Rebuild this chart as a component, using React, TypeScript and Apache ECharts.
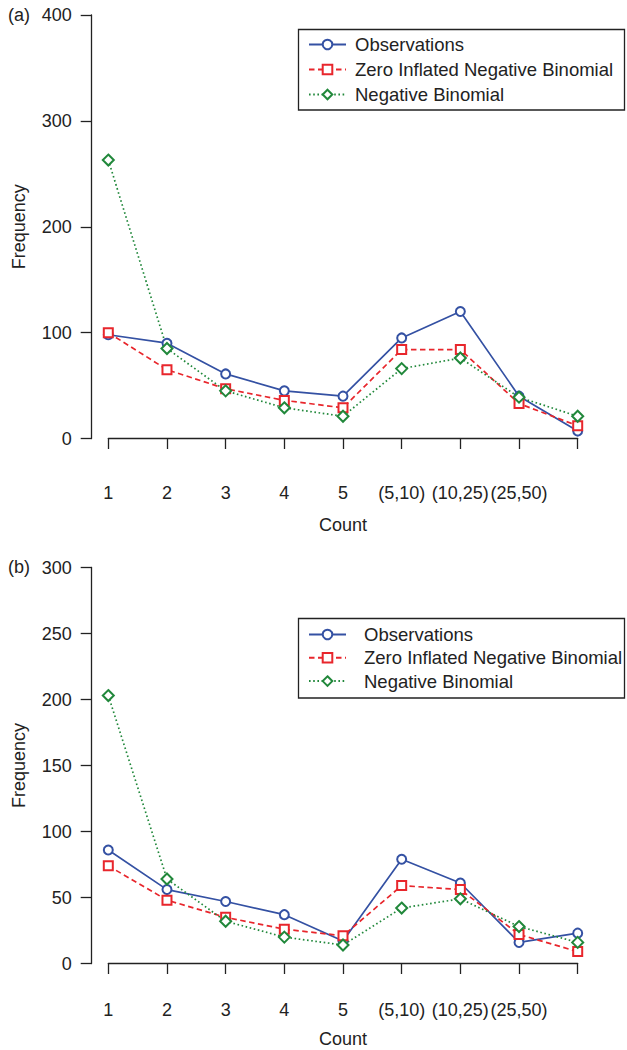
import React, { useEffect, useRef } from "react";
import * as echarts from "echarts";

const categories = ["1", "2", "3", "4", "5", "(5,10)", "(10,25)", "(25,50)", ""];
const seriesNames = ["Observations", "Zero Inflated Negative Binomial", "Negative Binomial"];

const obsA = [98, 90, 61, 45, 40, 95, 120, 40, 7];
const zinbA = [100, 65, 47, 36, 29, 84, 84, 33, 12];
const nbA = [263, 85, 45, 29, 21, 66, 76, 39, 21];

const obsB = [86, 56, 47, 37, 17, 79, 61, 16, 23];
const zinbB = [74, 48, 35, 26, 21, 59, 56, 22, 9];
const nbB = [203, 64, 32, 20, 14, 42, 49, 28, 16];

const yTicksA = { min: 0, max: 400, interval: 100 };
const yTicksB = { min: 0, max: 300, interval: 50 };

const BLUE = "#3451a3";
const RED = "#e8262c";
const GREEN = "#21883b";
const TXT = "#222";
const FONT = "Liberation Sans, Arial, Helvetica, sans-serif";

export default function App() {
  const ref = useRef<HTMLDivElement>(null);
  useEffect(() => {
    if (!ref.current) return;
    const chart = echarts.init(ref.current, undefined, { renderer: "svg" });

    const styles = [
      { color: BLUE, symbol: "emptyCircle", size: 9, type: "solid" as any },
      { color: RED, symbol: "emptyRect", size: 9, type: [5.5, 3.5] as any },
      { color: GREEN, symbol: "emptyDiamond", size: 11, type: [1.6, 2.6] as any },
    ];
    const mk = (name: string, data: number[], idx: number, s: any) => ({
      name,
      type: "line",
      xAxisIndex: idx,
      yAxisIndex: idx,
      data,
      symbol: s.symbol,
      symbolSize: s.size,
      showAllSymbol: true,
      lineStyle: { color: s.color, width: 1.7, type: s.type },
      itemStyle: { color: s.color, borderWidth: 1.7 },
      emphasis: { disabled: true },
    });

    const xAxisCommon = (idx: number, offset: number, margin: number, nameGap: number) => ({
      type: "category",
      gridIndex: idx,
      data: categories,
      boundaryGap: false,
      offset,
      name: "Count",
      nameLocation: "middle",
      nameGap,
      nameTextStyle: { fontSize: 18, color: TXT, fontFamily: FONT, verticalAlign: "top" },
      axisLine: { show: true, lineStyle: { color: "#222", width: 1.3 } },
      axisTick: { show: true, inside: false, length: 10.5, alignWithLabel: true, interval: 0, lineStyle: { color: "#222", width: 1.3 } },
      axisLabel: { interval: 0, margin, fontSize: 18, color: TXT, fontFamily: FONT },
      splitLine: { show: false },
    });

    const yAxisCommon = (idx: number, t: any) => ({
      type: "value",
      gridIndex: idx,
      min: t.min,
      max: t.max,
      interval: t.interval,
      offset: 16.6,
      name: "Frequency",
      nameLocation: "middle",
      nameGap: 64,
      nameTextStyle: { fontSize: 18, color: TXT, fontFamily: FONT },
      axisLine: { show: true, lineStyle: { color: "#222", width: 1.3 } },
      axisTick: { show: true, inside: false, length: 11, lineStyle: { color: "#222", width: 1.3 } },
      axisLabel: { margin: 20, fontSize: 18, color: TXT, fontFamily: FONT },
      splitLine: { show: false },
    });

    const legendCommon = (top: number, left: number, gap: number, textPad: number) => ({
      orient: "vertical",
      left,
      top,
      padding: 0,
      itemGap: gap,
      itemWidth: 37,
      itemHeight: 12,
      selectedMode: false,
      data: seriesNames,
      textStyle: { fontSize: 18.5, color: TXT, fontFamily: FONT, lineHeight: 18, padding: [0, 0, 0, textPad] },
    });

    chart.setOption({
      animation: false,
      backgroundColor: "#fff",
      grid: [
        { left: 108.3, right: 49.3, top: 15, height: 423.5 },
        { left: 108.3, right: 49.3, top: 567.5, height: 396 },
      ],
      xAxis: [xAxisCommon(0, 19.8, 26, 57.7), xAxisCommon(1, 18.2, 19.3, 48)],
      yAxis: [yAxisCommon(0, yTicksA), yAxisCommon(1, yTicksB)],
      legend: [legendCommon(35, 308, 6, 4), legendCommon(625, 308, 4.3, 13)],
      graphic: [
        { type: "rect", shape: { x: 298.5, y: 29.5, width: 326, height: 80.5 }, style: { fill: "none", stroke: "#222", lineWidth: 1.3 }, z: 10 },
        { type: "rect", shape: { x: 298.5, y: 618.5, width: 326, height: 79.5 }, style: { fill: "none", stroke: "#222", lineWidth: 1.3 }, z: 10 },
        { type: "text", left: 8, top: 6, style: { text: "(a)", fontSize: 18, fill: TXT, fontFamily: FONT } },
        { type: "text", left: 8, top: 557.5, style: { text: "(b)", fontSize: 18, fill: TXT, fontFamily: FONT } },
      ],
      series: [
        mk(seriesNames[0], obsA, 0, styles[0]),
        mk(seriesNames[1], zinbA, 0, styles[1]),
        mk(seriesNames[2], nbA, 0, styles[2]),
        mk(seriesNames[0], obsB, 1, styles[0]),
        mk(seriesNames[1], zinbB, 1, styles[1]),
        mk(seriesNames[2], nbB, 1, styles[2]),
      ],
    });
    return () => chart.dispose();
  }, []);
  return <div ref={ref} style={{ width: 627, height: 1050, position: "absolute", left: 0, top: 0 }} />;
}
